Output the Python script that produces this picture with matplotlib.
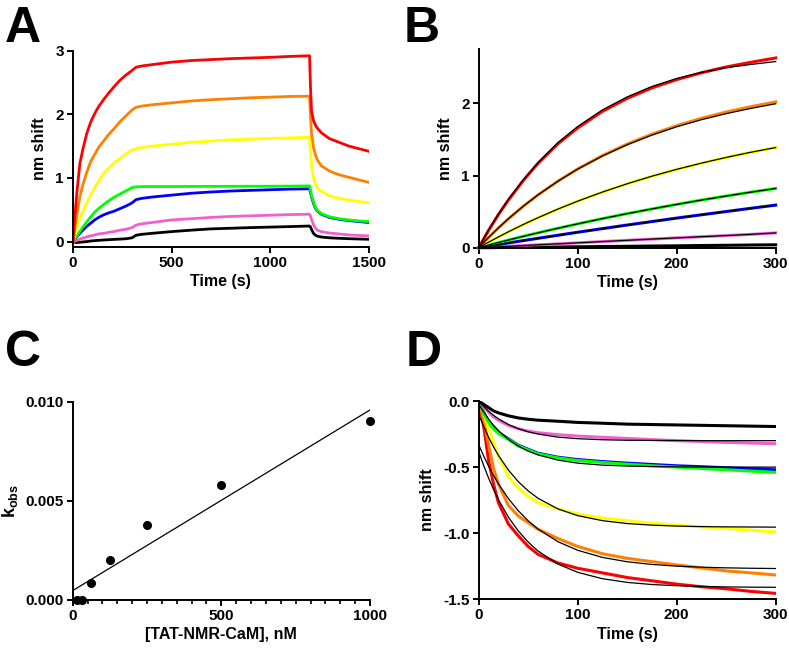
import matplotlib
matplotlib.use("Agg")
import matplotlib.pyplot as plt

plt.rcParams['font.family'] = 'Liberation Sans'
plt.rcParams['font.weight'] = 'bold'
plt.rcParams['axes.unicode_minus'] = False
plt.rcParams['mathtext.fontset'] = 'custom'
plt.rcParams['mathtext.rm'] = 'Liberation Sans:bold'
plt.rcParams['mathtext.bf'] = 'Liberation Sans:bold'

# colours of the 7 concentrations (low -> high)
cols = {'black': '#000000', 'magenta': '#f060d0', 'blue': '#0000ff', 'green': '#00ff00',
        'yellow': '#ffff00', 'orange': '#ff8000', 'red': '#ff0000'}

# ---- panel A: full association/dissociation traces
tA = [0, 10, 20, 35, 50, 70, 90, 110, 130, 155, 180, 210, 240, 270, 300, 320, 350, 400, 500, 600,
      700, 800, 900, 1000, 1100, 1200, 1205, 1210, 1220, 1230, 1240, 1260, 1300, 1350, 1400, 1450, 1500]
red_A = [0, 0.42, 0.78, 1.23, 1.45, 1.70, 1.88, 2.01, 2.12, 2.23, 2.33, 2.44, 2.54, 2.62, 2.69, 2.74, 2.76, 2.78, 2.82, 2.845,
         2.86, 2.875, 2.885, 2.895, 2.91, 2.92, 2.40, 2.05, 1.90, 1.83, 1.78, 1.71, 1.62, 1.56, 1.50, 1.46, 1.42]
orange_A = [0, 0.22, 0.42, 0.71, 0.89, 1.09, 1.26, 1.37, 1.48, 1.58, 1.68, 1.78, 1.89, 1.98, 2.07, 2.11, 2.13, 2.15, 2.18, 2.21,
            2.23, 2.245, 2.26, 2.27, 2.28, 2.285, 1.95, 1.70, 1.48, 1.36, 1.28, 1.19, 1.11, 1.05, 1.01, 0.97, 0.93]
yellow_A = [0, 0.11, 0.22, 0.37, 0.47, 0.61, 0.74, 0.85, 0.95, 1.07, 1.15, 1.24, 1.31, 1.38, 1.44, 1.46, 1.48, 1.50, 1.53, 1.56,
            1.58, 1.60, 1.61, 1.62, 1.63, 1.64, 1.40, 1.20, 1.00, 0.90, 0.84, 0.79, 0.72, 0.68, 0.655, 0.63, 0.61]
green_A = [0, 0.05, 0.09, 0.16, 0.23, 0.31, 0.39, 0.46, 0.52, 0.58, 0.64, 0.70, 0.75, 0.80, 0.85, 0.86, 0.865, 0.865, 0.865, 0.867,
           0.868, 0.869, 0.87, 0.87, 0.872, 0.875, 0.80, 0.72, 0.62, 0.54, 0.49, 0.44, 0.39, 0.36, 0.34, 0.325, 0.315]
blue_A = [0, 0.04, 0.08, 0.13, 0.18, 0.24, 0.29, 0.34, 0.38, 0.42, 0.45, 0.48, 0.52, 0.56, 0.61, 0.66, 0.68, 0.70, 0.73, 0.76,
          0.78, 0.795, 0.805, 0.815, 0.825, 0.83, 0.77, 0.70, 0.60, 0.525, 0.48, 0.43, 0.38, 0.35, 0.33, 0.315, 0.30]
magenta_A = [0, 0.01, 0.02, 0.04, 0.055, 0.075, 0.09, 0.105, 0.12, 0.13, 0.145, 0.16, 0.18, 0.195, 0.22, 0.26, 0.28, 0.30, 0.34, 0.36,
             0.38, 0.395, 0.405, 0.415, 0.425, 0.43, 0.40, 0.35, 0.27, 0.21, 0.18, 0.155, 0.135, 0.12, 0.105, 0.097, 0.09]
black_A = [0, -0.01, -0.015, -0.01, -0.005, 0.0, 0.01, 0.015, 0.02, 0.025, 0.03, 0.035, 0.04, 0.045, 0.06, 0.10, 0.115, 0.13, 0.157, 0.18,
           0.20, 0.21, 0.22, 0.228, 0.236, 0.245, 0.23, 0.19, 0.13, 0.10, 0.085, 0.072, 0.06, 0.052, 0.046, 0.041, 0.037]

# ---- panel B: association phase with fits
tB = [0, 10, 20, 30, 45, 60, 80, 100, 125, 150, 175, 200, 225, 250, 275, 300]
red_B = [0, 0.24, 0.46, 0.66, 0.93, 1.17, 1.44, 1.66, 1.89, 2.07, 2.215, 2.33, 2.425, 2.505, 2.57, 2.63]
red_B_fit = [0, 0.245, 0.468, 0.67, 0.94, 1.18, 1.455, 1.68, 1.91, 2.09, 2.235, 2.345, 2.43, 2.495, 2.54, 2.58]
orange_B = [0, 0.141, 0.274, 0.399, 0.573, 0.732, 0.922, 1.092, 1.277, 1.436, 1.573, 1.691, 1.793, 1.880, 1.955, 2.020]
orange_B_fit = [0, 0.142, 0.276, 0.401, 0.575, 0.733, 0.921, 1.089, 1.271, 1.427, 1.561, 1.676, 1.774, 1.858, 1.931, 1.995]
yellow_B = [0, 0.076, 0.149, 0.220, 0.321, 0.416, 0.535, 0.645, 0.771, 0.886, 0.991, 1.086, 1.172, 1.251, 1.323, 1.388]
green_B = [0, 0.036, 0.071, 0.106, 0.157, 0.206, 0.269, 0.330, 0.403, 0.472, 0.537, 0.600, 0.660, 0.716, 0.770, 0.821]
blue_B = [0, 0.022, 0.044, 0.066, 0.098, 0.130, 0.172, 0.214, 0.264, 0.314, 0.362, 0.410, 0.456, 0.501, 0.546, 0.590]
magenta_B = [0, 0.005, 0.012, 0.019, 0.029, 0.040, 0.053, 0.067, 0.085, 0.102, 0.119, 0.136, 0.152, 0.168, 0.185, 0.205]
black_B = [0, 0.0, 0.002, 0.003, 0.005, 0.007, 0.010, 0.012, 0.016, 0.019, 0.023, 0.026, 0.030, 0.033, 0.037, 0.040]

# ---- panel C: kobs vs concentration
conc = [15.625, 31.25, 62.5, 125, 250, 500, 1000]
kobs = [0.0, 0.0, 0.00084, 0.0020, 0.0038, 0.0058, 0.0090]
fit_conc = [0, 1000]
fit_kobs = [0.00047, 0.00958]

# ---- panel D: dissociation phase with fits
tD = [0, 2, 5, 10, 15, 20, 30, 40, 50, 60, 80, 100, 125, 150, 175, 200, 225, 250, 275, 300]
red_D = [0, -0.07, -0.19, -0.45, -0.63, -0.77, -0.93, -1.02, -1.10, -1.16, -1.225, -1.265, -1.30, -1.335, -1.36, -1.385, -1.405, -1.42, -1.44, -1.455]
red_D_fit = [-0.38, -0.424, -0.487, -0.583, -0.669, -0.747, -0.878, -0.983, -1.067, -1.135, -1.233, -1.296, -1.344, -1.372, -1.388, -1.397, -1.403, -1.406, -1.408, -1.409]
orange_D = [0, -0.05, -0.14, -0.33, -0.51, -0.63, -0.79, -0.87, -0.92, -0.97, -1.04, -1.10, -1.155, -1.19, -1.215, -1.24, -1.262, -1.285, -1.30, -1.316]
orange_D_fit = [-0.33, -0.365, -0.415, -0.493, -0.563, -0.627, -0.738, -0.830, -0.906, -0.969, -1.064, -1.129, -1.183, -1.216, -1.236, -1.249, -1.257, -1.262, -1.265, -1.267]
yellow_D = [0, -0.03, -0.09, -0.21, -0.31, -0.42, -0.57, -0.66, -0.72, -0.77, -0.815, -0.855, -0.885, -0.905, -0.925, -0.94, -0.952, -0.963, -0.977, -0.99]
yellow_D_fit = [-0.10, -0.138, -0.192, -0.274, -0.347, -0.412, -0.522, -0.610, -0.680, -0.736, -0.816, -0.867, -0.905, -0.927, -0.939, -0.946, -0.950, -0.952, -0.953, -0.954]
green_D = [0, -0.03, -0.09, -0.16, -0.21, -0.245, -0.29, -0.34, -0.37, -0.40, -0.43, -0.45, -0.465, -0.478, -0.49, -0.50, -0.51, -0.52, -0.53, -0.54]
blue_D = [0, -0.03, -0.085, -0.155, -0.205, -0.24, -0.285, -0.335, -0.365, -0.395, -0.425, -0.443, -0.458, -0.47, -0.48, -0.49, -0.497, -0.505, -0.512, -0.52]
green_D_fit = [-0.02, -0.046, -0.082, -0.136, -0.183, -0.224, -0.290, -0.341, -0.379, -0.408, -0.447, -0.470, -0.485, -0.492, -0.496, -0.498, -0.499, -0.50, -0.50, -0.50]
magenta_D = [0, -0.015, -0.04, -0.085, -0.12, -0.145, -0.185, -0.21, -0.228, -0.24, -0.255, -0.265, -0.275, -0.283, -0.292, -0.30, -0.306, -0.313, -0.318, -0.323]
magenta_D_fit = [0, -0.017, -0.042, -0.078, -0.108, -0.135, -0.178, -0.209, -0.233, -0.25, -0.273, -0.285, -0.293, -0.297, -0.298, -0.299, -0.30, -0.30, -0.30, -0.30]
black_D = [0, -0.01, -0.025, -0.05, -0.075, -0.09, -0.112, -0.128, -0.138, -0.145, -0.153, -0.162, -0.168, -0.175, -0.178, -0.181, -0.184, -0.187, -0.19, -0.193]


def style(ax):
    for s in ['top', 'right']:
        ax.spines[s].set_visible(False)
    for s in ['left', 'bottom']:
        ax.spines[s].set_linewidth(1.4)
    ax.tick_params(direction='out', length=4.5, width=1.4, labelsize=11, pad=2)
    for lab in ax.get_xticklabels() + ax.get_yticklabels():
        lab.set_fontweight('bold')


fig = plt.figure(figsize=(7.89, 6.53), dpi=100)

# A
axA = fig.add_axes([0.0925, 0.6222, 0.3748, 0.3002])
for name, y in [('black', black_A), ('magenta', magenta_A), ('blue', blue_A), ('green', green_A),
                ('yellow', yellow_A), ('orange', orange_A), ('red', red_A)]:
    axA.plot(tA, y, color=cols[name], lw=2.0)
axA.set_xlim(0, 1500)
axA.set_ylim(-0.08, 3)
axA.set_xticks([0, 500, 1000, 1500])
axA.set_yticks([0, 1, 2, 3])
axA.set_xlabel('Time (s)', fontsize=11.5, fontweight='bold', labelpad=3)
axA.set_ylabel('nm shift', fontsize=11.5, fontweight='bold', labelpad=6)
style(axA)

# B
axB = fig.add_axes([0.6067, 0.6207, 0.3764, 0.3038])
for name, y in [('black', black_B), ('magenta', magenta_B), ('blue', blue_B), ('green', green_B),
                ('yellow', yellow_B), ('orange', orange_B), ('red', red_B)]:
    axB.plot(tB, y, color=cols[name], lw=2.2, clip_on=False)
for y in [black_B, magenta_B, blue_B, green_B, yellow_B, orange_B_fit, red_B_fit]:
    axB.plot(tB, y, color='black', lw=0.9, clip_on=False)
axB.set_xlim(0, 300)
axB.set_ylim(0, 2.75)
axB.set_xticks([0, 100, 200, 300])
axB.set_yticks([0, 1, 2])
axB.set_xlabel('Time (s)', fontsize=11.5, fontweight='bold', labelpad=3)
axB.set_ylabel('nm shift', fontsize=11.5, fontweight='bold', labelpad=6)
style(axB)

# C
axC = fig.add_axes([0.0921, 0.0812, 0.3768, 0.3037])
axC.plot(fit_conc, fit_kobs, color='black', lw=0.9)
axC.plot(conc, kobs, 'o', color='black', ms=5.5, clip_on=False, zorder=5)
axC.set_xlim(0, 1000)
axC.set_ylim(0, 0.010)
axC.set_xticks([0, 500, 1000])
axC.set_xticks(range(0, 1001, 50), minor=True)
axC.set_yticks([0, 0.005, 0.010])
axC.set_yticklabels(['0.000', '0.005', '0.010'])
axC.set_xlabel('[TAT-NMR-CaM], nM', fontsize=11.5, fontweight='bold', labelpad=3)
axC.set_ylabel(r'$\mathbf{k_{obs}}$', fontsize=13, labelpad=4)
style(axC)
axC.tick_params(which='minor', direction='out', length=3, width=1.2)

# D
axD = fig.add_axes([0.6067, 0.0822, 0.3764, 0.3037])
for name, y in [('red', red_D), ('orange', orange_D), ('yellow', yellow_D), ('blue', blue_D),
                ('green', green_D), ('magenta', magenta_D), ('black', black_D)]:
    axD.plot(tD, y, color=cols[name], lw=2.2)
for y in [red_D_fit, orange_D_fit, yellow_D_fit, green_D_fit, magenta_D_fit]:
    axD.plot(tD, y, color='black', lw=0.9)
axD.set_xlim(0, 300)
axD.set_ylim(-1.5, 0)
axD.set_xticks([0, 100, 200, 300])
axD.set_yticks([0, -0.5, -1.0, -1.5])
axD.set_yticklabels(['0.0', '-0.5', '-1.0', '-1.5'])
axD.set_xlabel('Time (s)', fontsize=11.5, fontweight='bold', labelpad=3)
axD.set_ylabel('nm shift', fontsize=11.5, fontweight='bold', labelpad=6)
style(axD)

# panel letters
for letter, x, y in [('A', 0.006, 0.936), ('B', 0.512, 0.936), ('C', 0.006, 0.439), ('D', 0.514, 0.439)]:
    fig.text(x, y, letter, fontsize=36, fontweight='bold', ha='left', va='baseline')

fig.savefig('out.png', dpi=100)
